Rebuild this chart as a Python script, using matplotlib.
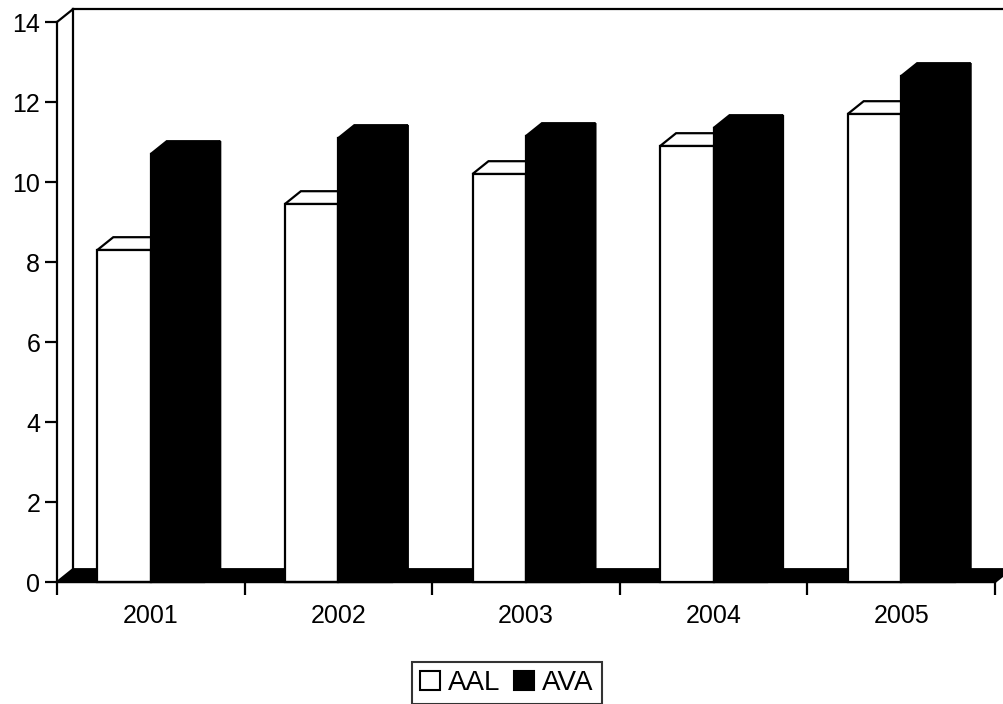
import matplotlib
matplotlib.use("Agg")
import matplotlib.pyplot as plt
from matplotlib.patches import Polygon, Patch

years = ["2001", "2002", "2003", "2004", "2005"]
aal = [8.3, 9.45, 10.2, 10.9, 11.7]
ava = [10.7, 11.1, 11.15, 11.35, 12.65]
series_names = ["AAL", "AVA"]
y_ticks = [0, 2, 4, 6, 8, 10, 12, 14]

plt.rcParams['font.family'] = ['Liberation Sans', 'DejaVu Sans']

W, H = 1004, 704
fig = plt.figure(figsize=(W / 100, H / 100), dpi=100)
ax = fig.add_axes([57 / W, 1 - 582 / H, (995 - 57) / W, (582 - 22) / H])
ax.set_xlim(0, 5)
ax.set_ylim(0, 14)
for s in ax.spines.values():
    s.set_visible(False)

DX, DY = 0.085, 0.32   # oblique depth offset (category units, value units)
BW = 0.285             # bar width in category units
lw = 1.6
n = len(years)

# floor (black) and walls
ax.add_patch(Polygon([(0, 0), (n, 0), (n + DX, DY), (DX, DY)], closed=True,
                     facecolor='black', edgecolor='black', lw=lw, clip_on=False, zorder=1))
ax.plot([DX, DX], [DY, 14 + DY], color='black', lw=lw, clip_on=False, zorder=1)
ax.plot([DX, n + DX], [14 + DY, 14 + DY], color='black', lw=lw, clip_on=False, zorder=1)
ax.plot([0, DX], [14, 14 + DY], color='black', lw=lw, clip_on=False, zorder=1)
ax.plot([0, 0], [0, 14], color='black', lw=lw, clip_on=False, zorder=5)
ax.plot([0, n], [0, 0], color='black', lw=lw, clip_on=False, zorder=5)


def bar3d(x0, v, face, z):
    ax.add_patch(Polygon([(x0 + BW, 0), (x0 + BW + DX, DY), (x0 + BW + DX, v + DY), (x0 + BW, v)],
                         closed=True, facecolor=face, edgecolor='black', lw=lw, clip_on=False, zorder=z))
    ax.add_patch(Polygon([(x0, v), (x0 + BW, v), (x0 + BW + DX, v + DY), (x0 + DX, v + DY)],
                         closed=True, facecolor=face, edgecolor='black', lw=lw, clip_on=False, zorder=z))
    ax.bar(x0, v, width=BW, align='edge', color=face, edgecolor='black', lw=lw, zorder=z,
           clip_on=False)


for i in range(n):
    c = i + 0.5
    bar3d(c - BW, aal[i], 'white', 2 + i * 2)
    bar3d(c, ava[i], 'black', 3 + i * 2)

# y axis ticks
ax.set_yticks(y_ticks)
ax.set_yticklabels([str(t) for t in y_ticks], fontsize=18)
ax.tick_params(axis='y', length=9, width=lw, pad=3, direction='out')

# x axis: ticks at category boundaries, labels at centres
ax.set_xticks(range(n + 1))
ax.set_xticklabels([''] * (n + 1))
ax.set_xticks([i + 0.5 for i in range(n)], minor=True)
ax.set_xticklabels(years, minor=True, fontsize=18)
ax.tick_params(axis='x', which='major', length=9, width=lw, direction='out')
ax.tick_params(axis='x', which='minor', length=0, pad=16)

handles = [Patch(facecolor='white', edgecolor='black', lw=1.5),
           Patch(facecolor='black', edgecolor='black', lw=1.5)]
leg = fig.legend(handles, series_names, loc='center', bbox_to_anchor=(507 / W, 1 - 683 / H),
                 ncol=2, fontsize=20, frameon=True, fancybox=False, edgecolor='black',
                 handlelength=0.7, handleheight=0.7, handletextpad=0.3, columnspacing=0.5,
                 borderpad=0.3, borderaxespad=0)
leg.get_frame().set_linewidth(1.5)

fig.savefig("out.png", dpi=100)
